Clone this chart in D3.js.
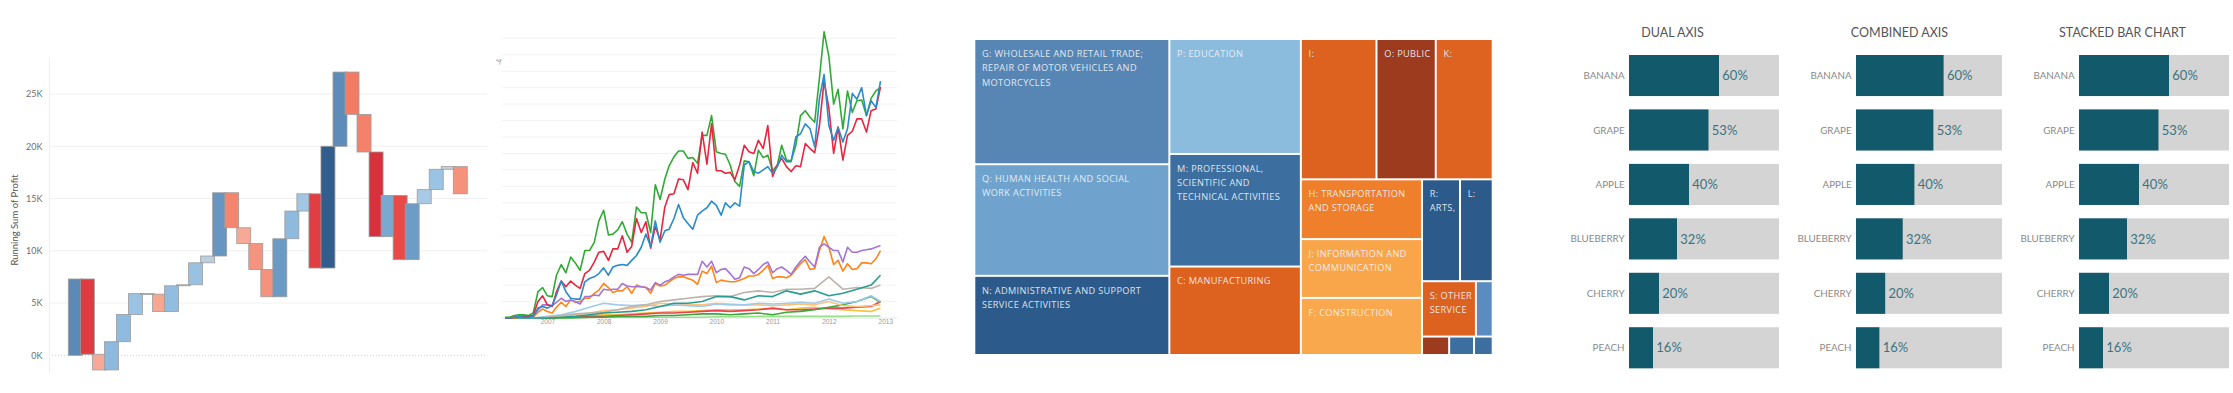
<!DOCTYPE html>
<html>
<head>
<meta charset="utf-8">
<script src="https://cdn.jsdelivr.net/npm/d3@7"></script>
<style>
  html, body { margin: 0; padding: 0; background: #fff; }
  svg { display: block; font-family: "Lato", "Open Sans", sans-serif; }
</style>
</head>
<body>
<svg id="chart" width="2233" height="393"></svg>
<script>
// ---------- data: waterfall (profit per step, drawn as running sum) ----------
const steps = ["01","02","03","04","05","06","07","08","09","10","11","12","13","14","15","16","17",
               "18","19","20","21","22","23","24","25","26","27","28","29","30","31","32","33"];
const profit = [7300, -7200, -1500, 2700, 2600, 2000, -50, -1650, 2450, 100, 2100, 650, 6050,
                -3350, -1500, -2500, -2600, 5550, 2650, 1650, -7100, 11650, 7100, -4050, -3600,
                -8100, 3950, -6150, 5350, 1350, 1950, 250, -2600];
const profitTicks = [0, 5000, 10000, 15000, 20000, 25000];

// ---------- data: monthly lines (Apr 2006 - Dec 2012) ----------
const firstMonth = new Date(2006, 3, 1);
const lastMonth = new Date(2012, 11, 1);
const yearTicks = [2007, 2008, 2009, 2010, 2011, 2012, 2013];

const lineGreen = [0.05,0.05,0.15,0.2,0.2,0.15,0.3,1.6,1.85,1.35,
  1.3,2.6,3.25,2.75,3.7,3.35,2.9,4.1,4.1,4.6,
  5.9,6.55,5.05,5.1,5.35,5.85,5.1,4.6,6.75,6.4,
  6.4,5.2,8.1,7.2,8.45,9.25,9.8,10.15,10.15,9.7,
  9.75,9.4,11.1,11.1,12.3,10.1,10.0,9.95,9.3,8.3,
  8.0,9.55,9.5,8.65,10.2,9.75,9.9,8.95,9.3,10.5,
  9.6,9.55,10.5,12.3,12.6,12.2,11.9,14.6,17.4,15.9,
  13.0,13.9,11.5,13.8,12.5,13.2,13.25,12.3,13.35,13.8,
  14.0];
const lineRed = [0,0,0.05,0.1,0.1,0.1,0.15,1.0,1.35,0.8,
  0.7,1.6,2.25,1.9,2.25,2.0,1.8,2.7,2.9,3.4,
  4.0,4.05,3.5,4.2,4.2,5.0,4.0,4.35,6.05,5.2,
  5.85,4.25,5.55,4.75,6.75,7.5,7.55,8.45,8.4,7.8,
  9.45,8.8,11.3,9.35,11.8,8.95,8.95,8.8,8.85,8.4,
  9.3,10.5,10.1,10.0,10.8,10.3,11.7,8.6,9.3,9.7,
  9.2,8.9,9.25,9.2,10.6,10.3,10.05,11.7,14.4,12.75,
  10.0,11.6,9.6,11.1,11.35,12.1,12.1,11.3,12.6,12.7,
  14.05];
const lineBlue = [0,0,0.05,0.1,0.05,0.05,0.1,0.6,0.7,0.6,
  0.75,1.4,2.25,1.6,1.2,1.15,1.15,2.2,2.4,2.5,
  2.7,3.05,2.6,3.1,3.2,3.25,3.2,3.5,3.8,4.3,
  5.1,4.35,5.9,4.6,5.3,5.4,6.05,6.9,6.1,5.75,
  5.4,6.25,6.5,6.7,7.1,6.85,6.25,7.0,6.7,7.0,
  6.8,9.3,9.5,8.9,8.8,9.0,9.2,8.8,9.2,9.9,
  9.5,9.5,11.0,11.2,11.8,11.5,10.4,13.35,14.8,11.7,
  10.8,11.6,10.7,11.5,13.65,13.3,14.0,12.3,13.2,12.8,
  14.4];
const linePurple = [0,0,0.05,0.1,0.1,0.1,0.1,0.5,0.8,0.8,
  0.75,0.95,1.2,1.0,1.1,1.0,0.85,1.3,1.3,1.4,
  1.35,1.75,1.7,1.75,1.75,2.1,1.95,1.9,1.9,1.9,
  1.85,1.7,2.15,2.0,2.2,2.3,2.5,2.65,2.6,2.65,
  2.65,2.65,3.45,3.1,3.45,2.75,2.95,3.0,2.7,2.35,
  2.45,3.1,3.0,2.7,2.95,3.25,3.4,2.75,3.0,3.1,
  2.9,2.65,3.1,3.45,3.75,3.4,3.1,4.3,4.5,4.3,
  4.1,4.1,3.4,4.3,4.0,4.0,4.1,4.15,4.2,4.3,
  4.4];
const lineOrange = [0,0,0,0.05,0.05,0.05,0.05,0.35,0.55,0.4,
  0.3,0.65,0.95,0.7,1.1,0.95,1.0,1.2,1.2,1.5,
  1.7,2.1,1.85,1.55,1.65,1.65,1.9,1.5,2.0,1.9,
  1.85,1.5,2.1,1.95,2.0,2.2,2.4,2.5,2.5,2.4,
  2.3,2.05,2.85,2.7,3.15,2.15,2.3,2.25,2.2,2.2,
  2.3,2.4,2.55,2.55,2.65,2.9,3.2,2.4,2.5,2.5,
  2.45,2.6,2.95,3.3,3.55,2.95,3.0,4.1,4.95,4.3,
  3.25,3.5,2.85,3.3,2.95,3.0,3.35,3.35,3.3,3.6,
  4.1];

// smaller series read at quarterly points (month index from Apr 2006)
const quarterIdx = [0,3,6,9,12,15,18,21,24,27,30,33,36,39,42,45,48,51,54,57,60,63,66,69,72,75,78,80];
const lineGray = [0,0,0,0.05,0.15,0.25,0.3,0.35,0.5,0.7,0.8,1.0,1.1,1.2,1.3,1.35,1.3,1.55,1.65,1.55,1.75,1.75,1.8,2.5,1.75,1.85,1.8,2.0];
const lineTeal = [0,0,0,0,0.05,0.1,0.2,0.3,0.35,0.4,0.5,0.7,0.9,0.9,1.0,1.3,1.3,1.1,1.35,1.3,1.65,1.45,1.65,1.35,1.5,1.75,2.0,2.6];
const lineSky = [0,0,0,0.1,0.2,0.4,0.65,0.9,0.8,0.75,0.8,0.7,0.8,0.75,0.7,0.85,0.8,0.8,0.9,0.85,0.9,0.95,0.9,1.15,0.9,1.0,1.35,1.0];
const linePeach = [0,0,0,0.05,0.1,0.2,0.3,0.45,0.5,0.6,0.7,0.9,0.85,0.8,0.8,0.9,0.85,0.8,0.8,0.75,0.8,0.85,0.8,1.0,0.75,0.7,0.75,0.8];
const lineGold = [0,0,0,0,0.05,0.1,0.15,0.2,0.2,0.25,0.3,0.35,0.4,0.4,0.45,0.5,0.5,0.5,0.55,0.55,0.5,0.6,0.65,0.55,0.5,0.45,0.4,0.6];
const lineRed2 = [0,0,0,0,0.05,0.05,0.1,0.1,0.15,0.2,0.25,0.3,0.3,0.35,0.4,0.45,0.4,0.45,0.5,0.6,0.5,0.5,0.55,0.6,0.6,0.65,0.7,1.0];
const lineGreen2 = [0,0,0,0,0,0.02,0.05,0.05,0.1,0.1,0.1,0.15,0.15,0.2,0.25,0.25,0.2,0.25,0.3,0.2,0.35,0.4,0.5,0.65,0.8,1.0,1.3,0.95];
const lineMint = [0,0,0,0,0,0.02,0.03,0.05,0.05,0.05,0.05,0.05,0.05,0.05,0.05,0.08,0.08,0.08,0.1,0.1,0.1,0.1,0.1,0.1,0.1,0.12,0.12,0.12];

// ---------- data: treemap of sectors ----------
const sectorCodes = ["G","Q","N","P","M","C","I","O","K","H","J","F","R","L","S","E","B","D","A"];
const sectorSize = [2341, 2086, 1480, 1449, 1419, 1115, 1017, 797, 766, 694, 683, 663, 371, 319, 286, 89, 48, 44, 33];
const sectorLines = [
  ["G: WHOLESALE AND RETAIL TRADE;", "REPAIR OF MOTOR VEHICLES AND", "MOTORCYCLES"],
  ["Q: HUMAN HEALTH AND SOCIAL", "WORK ACTIVITIES"],
  ["N: ADMINISTRATIVE AND SUPPORT", "SERVICE ACTIVITIES"],
  ["P: EDUCATION"],
  ["M: PROFESSIONAL,", "SCIENTIFIC AND", "TECHNICAL ACTIVITIES"],
  ["C: MANUFACTURING"],
  ["I:"],
  ["O: PUBLIC"],
  ["K:"],
  ["H: TRANSPORTATION", "AND STORAGE"],
  ["J: INFORMATION AND", "COMMUNICATION"],
  ["F: CONSTRUCTION"],
  ["R:", "ARTS,"],
  ["L:"],
  ["S: OTHER", "SERVICE"],
  ["E:"], ["B:"], ["D:"], ["A:"]
];

// ---------- data: fruit bars ----------
const panelTitles = ["DUAL AXIS", "COMBINED AXIS", "STACKED BAR CHART"];
const fruits = ["BANANA", "GRAPE", "APPLE", "BLUEBERRY", "CHERRY", "PEACH"];
const fruitShare = [0.60, 0.53, 0.40, 0.32, 0.20, 0.16];


const svg = d3.select("#chart");

// ================= waterfall =================
const wf = svg.append("g");
const running = d3.cumsum(profit);
const wfData = profit.map((p, i) => ({ step: steps[i], profit: p, end: running[i], start: running[i] - p }));

const xWf = d3.scaleBand().domain(steps).range([69.3, 466.3]);
const yWf = d3.scaleLinear().domain([0, 25000]).range([355.3, 94]);
const wfColor = d3.scaleLinear()
    .domain([-12000, -8000, -6000, -4000, -2500, -1500, 0, 1500, 2500, 4000, 6000, 8000, 12000])
    .range(["#b5163a", "#d9323e", "#e84c48", "#f47c64", "#f5947e", "#f7a996", "#cfd3d8",
            "#a4c9e6", "#90bce0", "#78a8d0", "#6796c2", "#5584b2", "#2d5a88"])
    .clamp(true);

wf.selectAll("line.grid")
    .data(profitTicks.filter(t => t > 0))
    .enter().append("line")
    .attr("x1", 49).attr("x2", 487)
    .attr("y1", d => yWf(d)).attr("y2", d => yWf(d))
    .attr("stroke", "#f0f0f0");

wf.append("line")
    .attr("x1", 49).attr("x2", 487)
    .attr("y1", yWf(0)).attr("y2", yWf(0))
    .attr("stroke", "#d0d0d0")
    .attr("stroke-dasharray", "1,2");

wf.append("line")
    .attr("x1", 49.5).attr("x2", 49.5)
    .attr("y1", yWf(28500)).attr("y2", yWf(-1600))
    .attr("stroke", "#eeeeee");

const wfAxis = wf.append("g")
    .attr("transform", "translate(49,0)")
    .call(d3.axisLeft(yWf).tickValues(profitTicks).tickSize(0).tickPadding(6.5)
        .tickFormat(d => d / 1000 + "K"));
wfAxis.select(".domain").remove();
wfAxis.selectAll("text")
    .attr("fill", "#6f6f6f")
    .style("font-size", "9px")
    .style("font-family", "Lato, sans-serif");

wf.append("text")
    .attr("transform", "translate(18,220) rotate(-90)")
    .attr("text-anchor", "middle")
    .attr("fill", "#555")
    .style("font-size", "9.5px")
    .text("Running Sum of Profit");

wf.selectAll("rect.step")
    .data(wfData)
    .enter().append("rect")
    .attr("class", "step")
    .attr("x", d => xWf(d.step) + xWf.bandwidth() / 2 - 7)
    .attr("width", 14)
    .attr("y", d => yWf(Math.max(d.start, d.end)))
    .attr("height", d => Math.max(1, Math.abs(yWf(d.start) - yWf(d.end))))
    .attr("fill", d => wfColor(d.profit))
    .attr("stroke", "#9c9c9c")
    .attr("stroke-width", 0.8);

// ================= line chart =================
const months = d3.timeMonth.range(firstMonth, d3.timeMonth.offset(lastMonth, 1));
const xLine = d3.scaleTime().domain([firstMonth, lastMonth]).range([505, 880.5]);
const yLine = d3.scaleLinear().domain([0, 17]).range([318, 38.3]);

const lc = svg.append("g");
lc.selectAll("line.grid")
    .data(d3.range(1, 18))
    .enter().append("line")
    .attr("x1", 502).attr("x2", 897)
    .attr("y1", d => yLine(d)).attr("y2", d => yLine(d))
    .attr("stroke", "#f3f3f3");
lc.append("line")
    .attr("x1", 502).attr("x2", 897)
    .attr("y1", yLine(0)).attr("y2", yLine(0))
    .attr("stroke", "#e4e4e4");

const lcAxis = lc.append("g")
    .attr("transform", `translate(0,${yLine(0)})`)
    .call(d3.axisBottom(xLine)
        .tickValues(yearTicks.map(y => new Date(y, 0, 1)))
        .tickFormat(d3.timeFormat("%Y"))
        .tickSize(0).tickPadding(1.5));
lcAxis.select(".domain").remove();
lcAxis.selectAll("text")
    .attr("fill", "#9a9a9a")
    .style("font-size", "6.5px");

lc.append("text")
    .attr("transform", "translate(502,62) rotate(-90)")
    .attr("text-anchor", "middle")
    .attr("fill", "#9a9a9a")
    .style("font-size", "7px")
    .text("-4");

const monthly = (vals) => vals.map((v, i) => ({ date: months[i], value: v }));
const quarterly = (vals) => vals.map((v, i) => ({ date: months[quarterIdx[i]], value: v }));

const lineSeries = [
    { name: "mint",   color: "#98df8a", points: quarterly(lineMint) },
    { name: "gold",   color: "#f5c542", points: quarterly(lineGold) },
    { name: "red2",   color: "#e8414f", points: quarterly(lineRed2) },
    { name: "green2", color: "#3aa83a", points: quarterly(lineGreen2) },
    { name: "peach",  color: "#ffc07a", points: quarterly(linePeach) },
    { name: "sky",    color: "#9ecbea", points: quarterly(lineSky) },
    { name: "gray",   color: "#bdb3ad", points: quarterly(lineGray) },
    { name: "teal",   color: "#2a9d8f", points: quarterly(lineTeal) },
    { name: "orange", color: "#ff8419", points: monthly(lineOrange) },
    { name: "purple", color: "#a674d2", points: monthly(linePurple) },
    { name: "green",  color: "#31aa35", points: monthly(lineGreen) },
    { name: "red",    color: "#e8263f", points: monthly(lineRed) },
    { name: "blue",   color: "#2b8bcb", points: monthly(lineBlue) }
];

const line = d3.line().x(d => xLine(d.date)).y(d => yLine(d.value));
lc.selectAll("path.series")
    .data(lineSeries)
    .enter().append("path")
    .attr("class", "series")
    .attr("d", d => line(d.points))
    .attr("fill", "none")
    .attr("stroke", d => d.color)
    .attr("stroke-width", 1.6)
    .attr("stroke-linejoin", "round");

// ================= treemap =================
const sizeByCode = new Map(sectorCodes.map((c, i) => [c, sectorSize[i]]));
const linesByCode = new Map(sectorCodes.map((c, i) => [c, sectorLines[i]]));
// nesting as laid out in the view: columns, then rows inside the right column
const tmLayout = [["G","Q","N"], ["P","M","C"],
                  [["I","O","K"], [["H","J","F"], [["R","L"], ["S","E"], ["B","D","A"]]]]];
const toNode = item => typeof item === "string"
    ? { code: item, value: sizeByCode.get(item) }
    : { children: item.map(toNode) };

const tmRoot = d3.hierarchy({ children: tmLayout.map(toNode) }).sum(d => d.value || 0);
d3.treemap().tile(d3.treemapSliceDice).size([516.4, 314]).paddingInner(2)(tmRoot);

const tmColor = d3.scaleOrdinal()
    .domain(sectorCodes)
    .range(["#5886b4", "#6fa3cd", "#2c5a8a", "#8cbcdd", "#3c6e9f", "#dd6220", "#dd6220", "#9d3b1f",
            "#de6220", "#f07f2c", "#f9a64b", "#faa84d", "#2c5a8a", "#2c5a8a", "#dd6220", "#5a8cc0",
            "#9d3b1f", "#3c6e9f", "#3c6e9f"]);

const tm = svg.append("g").attr("transform", "translate(975.3,40)");
const cells = tm.selectAll("g.cell")
    .data(tmRoot.leaves())
    .enter().append("g")
    .attr("class", "cell")
    .attr("transform", d => `translate(${d.x0},${d.y0})`);

cells.append("rect")
    .attr("width", d => d.x1 - d.x0)
    .attr("height", d => d.y1 - d.y0)
    .attr("fill", d => tmColor(d.data.code));

cells.filter(d => d.x1 - d.x0 > 30 && d.y1 - d.y0 > 30)
    .append("text")
    .attr("fill", "#eef3f8")
    .attr("fill-opacity", 0.92)
    .style("font-family", "'Open Sans', sans-serif")
    .style("font-size", "9.2px")
    .style("letter-spacing", "0.35px")
    .selectAll("tspan")
    .data(d => linesByCode.get(d.data.code))
    .enter().append("tspan")
    .attr("x", 6.7)
    .attr("y", (d, i) => 16.7 + i * 14.4)
    .text(d => d);

// ================= fruit bars =================
const panelX = [1629, 1856, 2079];
const panelW = [150, 146, 150];
const yBar = d3.scaleBand().domain(fruits).range([48.3, 375]).paddingInner(0.246).paddingOuter(0.123);
const pct = d3.format(".0%");

panelTitles.forEach((title, p) => {
    const g = svg.append("g");
    const xBar = d3.scaleLinear().domain([0, 1]).range([panelX[p], panelX[p] + panelW[p]]);

    g.append("text")
        .attr("x", panelX[p] + 43.5)
        .attr("y", 37.3)
        .attr("text-anchor", "middle")
        .attr("fill", "#555")
        .style("font-size", "12.5px")
        .text(title);

    g.selectAll("rect.bg")
        .data(fruits)
        .enter().append("rect")
        .attr("x", xBar(0))
        .attr("width", xBar(1) - xBar(0))
        .attr("y", d => yBar(d))
        .attr("height", yBar.bandwidth())
        .attr("fill", "#d4d4d4");

    g.selectAll("rect.val")
        .data(fruits)
        .enter().append("rect")
        .attr("x", xBar(0))
        .attr("width", (d, i) => xBar(fruitShare[i]) - xBar(0))
        .attr("y", d => yBar(d))
        .attr("height", yBar.bandwidth())
        .attr("fill", "#12596b");

    g.selectAll("text.fruit")
        .data(fruits)
        .enter().append("text")
        .attr("x", xBar(0) - 4.4)
        .attr("y", d => yBar(d) + yBar.bandwidth() / 2)
        .attr("dy", "0.36em")
        .attr("text-anchor", "end")
        .attr("fill", "#8a8a8a")
        .style("font-size", "9.8px")
        .text(d => d);

    g.selectAll("text.pct")
        .data(fruits)
        .enter().append("text")
        .attr("x", (d, i) => xBar(fruitShare[i]) + 3.3)
        .attr("y", d => yBar(d) + yBar.bandwidth() / 2)
        .attr("dy", "0.36em")
        .attr("fill", "#3d7381")
        .style("font-size", "13px")
        .text((d, i) => pct(fruitShare[i]));
});
</script>
</body>
</html>
